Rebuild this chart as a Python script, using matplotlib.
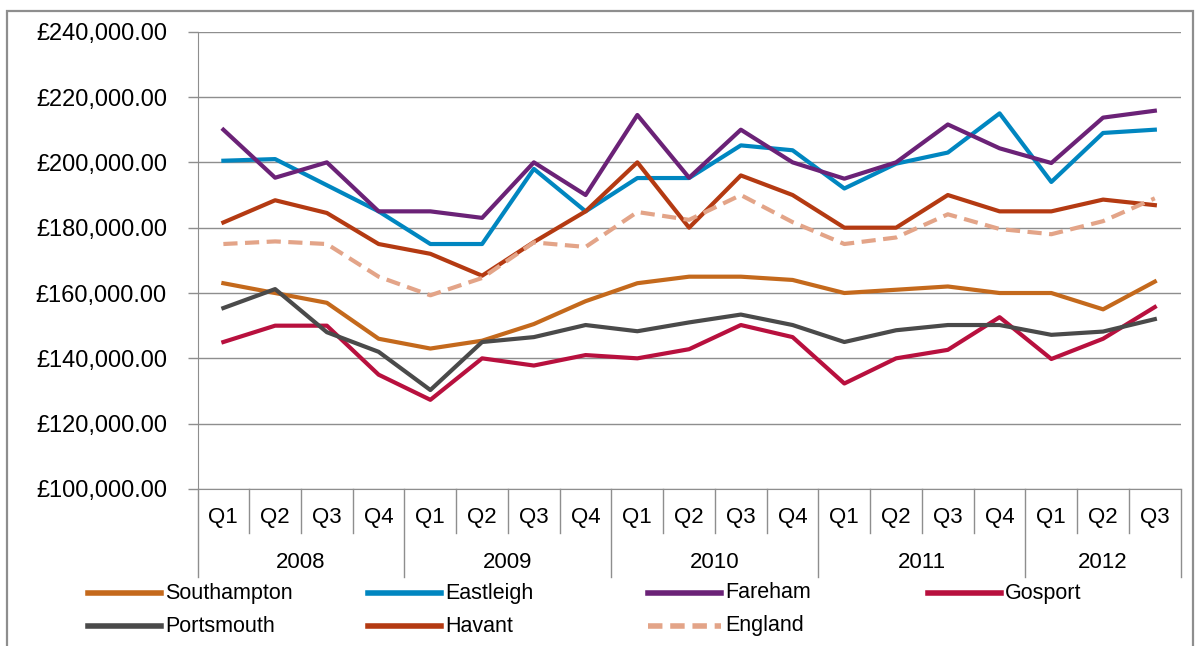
import matplotlib
matplotlib.use("Agg")
import matplotlib.pyplot as plt
from matplotlib.lines import Line2D
from matplotlib.patches import Rectangle
import matplotlib.transforms as mtransforms

plt.rcParams['font.family'] = ['Liberation Sans', 'DejaVu Sans']

# donnees
quarters = ["Q1", "Q2", "Q3", "Q4"] * 4 + ["Q1", "Q2", "Q3"]
years = ["2008", "2009", "2010", "2011", "2012"]
year_len = [4, 4, 4, 4, 3]

southampton = [163000, 160000, 157000, 146000, 143000, 145400, 150500, 157500, 163000, 165000,
               165000, 164000, 160000, 161000, 162000, 160000, 160000, 155000, 163500]
eastleigh = [200500, 201000, 193000, 185000, 175000, 175000, 198000, 185000, 195200, 195200,
             205200, 203700, 192000, 199600, 203000, 215000, 194000, 209000, 210000]
fareham = [210000, 195300, 200000, 185000, 185000, 183000, 200000, 190000, 214500, 195300,
           210000, 200000, 195000, 200000, 211600, 204300, 199800, 213700, 215800]
gosport = [145000, 150000, 150000, 135000, 127300, 140000, 137800, 141000, 140000, 142800,
           150200, 146500, 132300, 140000, 142600, 152600, 139800, 146000, 155700]
portsmouth = [155400, 161200, 148000, 142000, 130300, 145000, 146500, 150200, 148300, 151000,
              153400, 150200, 145000, 148600, 150200, 150200, 147200, 148200, 152000]
havant = [181600, 188400, 184500, 175000, 172000, 165300, 175600, 185000, 200000, 180000,
          196000, 190000, 180000, 180000, 190000, 185000, 185000, 188600, 186900]
england = [175000, 175800, 175000, 165000, 159300, 164600, 175500, 174100, 184800, 182400,
           190000, 181700, 175000, 177000, 184100, 179600, 178000, 182000, 189000]

series = [("Southampton", southampton, "#C4691C", "-"),
          ("Eastleigh", eastleigh, "#0086C0", "-"),
          ("Fareham", fareham, "#6B2277", "-"),
          ("Gosport", gosport, "#B8103E", "-"),
          ("Portsmouth", portsmouth, "#4A4A4A", "-"),
          ("Havant", havant, "#B43A12", "-"),
          ("England", england, "#E3A488", "--")]

grid_col = "#8E8E8E"
fs = 15.5

fig = plt.figure(figsize=(12.01, 6.46), dpi=100)
ax = fig.add_axes([197.5 / 1201, 1 - 489 / 646, (1180.7 - 197.5) / 1201, (489 - 31.7) / 646])

x = list(range(len(quarters)))
for name, vals, col, ls in series:
    if ls == "--":
        ax.plot(x, vals, color=col, lw=3, dashes=(3.4, 1.8), solid_capstyle='butt', zorder=3)
    else:
        ax.plot(x, vals, color=col, lw=3, zorder=3)

ax.set_xlim(-0.5, len(quarters) - 0.5)
ax.set_ylim(100000, 240000)
yt = list(range(100000, 240001, 20000))
ax.set_yticks(yt)
ax.set_yticklabels([f"£{v:,.2f}" for v in yt], fontsize=17)
ax.tick_params(axis='y', length=7, width=1, color=grid_col, pad=15)
ax.grid(axis='y', color=grid_col, lw=1)
ax.set_axisbelow(True)
ax.set_xticks([])
for s in ["top", "right"]:
    ax.spines[s].set_visible(False)
ax.spines["left"].set_color(grid_col)
ax.spines["bottom"].set_color(grid_col)

# axe des categories a deux niveaux
trans = mtransforms.blended_transform_factory(ax.transData, ax.transAxes)
h = 457.3
q_bottom = -(533 - 489) / h
y_bottom = -(577 - 489) / h
for i, q in enumerate(quarters):
    ax.text(i, -(518 - 489) / h, q, transform=trans, ha='center', va='center', fontsize=16)
start = 0
bounds = [-0.5]
for yr, n in zip(years, year_len):
    ax.text(start + n / 2 - 0.5, -(562 - 489) / h, yr, transform=trans, ha='center', va='center', fontsize=16)
    start += n
    bounds.append(start - 0.5)
for i in range(1, len(quarters)):
    b = i - 0.5
    if b not in bounds:
        ax.plot([b, b], [0, q_bottom], transform=trans, color=grid_col, lw=1, clip_on=False)
for b in bounds:
    ax.plot([b, b], [0, y_bottom], transform=trans, color=grid_col, lw=1, clip_on=False)

# legende faite a la main
for k in range(len(series)):
    name, vals, col, ls = series[k]
    row, c = divmod(k, 4)
    x0 = 88 + 280 * c
    yy = 1 - (593 + 33 * row) / 646
    if ls == "--":
        fig.add_artist(Line2D([x0 / 1201, (x0 + 73) / 1201], [yy, yy], color=col, lw=4,
                              dashes=(2.6, 1.4), solid_capstyle='butt'))
    else:
        fig.add_artist(Line2D([x0 / 1201, (x0 + 73) / 1201], [yy, yy], color=col, lw=4))
    fig.text((x0 + 77) / 1201, yy, name, ha='left', va='center', fontsize=fs)

# cadre exterieur
fig.add_artist(Rectangle((7 / 1201, -0.01), (1193 - 7) / 1201, 1.01 - 11 / 646,
                         transform=fig.transFigure, fill=False, ec=grid_col, lw=1.6))

fig.savefig("out.png", dpi=100)
